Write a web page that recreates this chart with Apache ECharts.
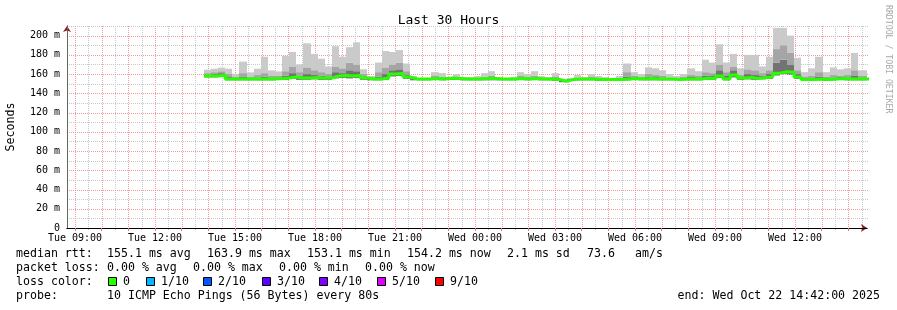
<!DOCTYPE html>
<html><head><meta charset="utf-8">
<script src="https://cdn.jsdelivr.net/npm/echarts@6/dist/echarts.min.js"></script>
<style>html,body{margin:0;padding:0;background:#fff}#c{width:897px;height:310px}</style>
</head><body><div id="c"></div>
<script>
// ---- axis extents (hours since Tue 00:00) ----
const xStartHour = 8.7;           // Tue 08:42
const xEndHour = 38.7;            // Wed 14:42
const binStartHour = 13 + 50 / 60; // first bin Tue 13:50
const binHours = 16 / 60;          // 16 minute consolidation

// ---- tick labels ----
const xLabelHours = [9, 12, 15, 18, 21, 24, 27, 30, 33, 36];
const yLabelValues = [0, 20, 40, 60, 80, 100, 120, 140, 160, 180, 200];

// ---- series values (ms) ----
const medianRtt = [158,158,159,155,155,155,155,155,155,155,155.5,156,157,156,156,156.5,156,156,158,158.5,
  158,158.5,156,155,155,156,160,160.5,157,155,155,155,155.5,155,156,155.5,155,155,155,155.5,
  155.5,155,155,155,155.5,155,155.5,155,155,154.5,152.5,154.5,155,155,155,154.5,154.5,154.5,154.5,155,
  155.5,155,155.5,155,155,155,154.5,155,155,155,156,155.5,158,155,159,156,156.5,155.5,156.5,157,
  161,162.5,162,157,154.5,154.5,155,154.5,155,155.5,155,155,155,155];
const smokeMin = [156.5,156.5,157.5,153.5,153.5,153.5,153.5,153.5,153.5,153.5,154,154,155,154,154,154.5,154,154,155.5,156,
  155.5,156,154,153.5,153.5,154,157.5,158,155,153.5,153.5,153.5,154,153.5,154,154,153.5,153.5,153.5,153.5,
  153.5,153.5,153.5,153.5,154,153.5,154,153.5,153.5,153,151.5,153,153.5,153.5,153.5,153,153,153,153,153.5,
  154,153.5,153.5,153.5,153.5,153.5,153.5,153.5,153.5,153.5,154,154,156,153.5,156.5,154,154.5,154,154.5,155,
  158.5,160,159.5,155,153,153,153.5,153,153.5,154,153.5,153.5,153.5,153.5];
const smokeInner = [159.5,160,161,157,156,157.5,156,156.5,157.5,156.5,156.5,158.5,161,158.5,160,159,158.5,157.5,162,161,
  164,163,157.5,155.5,157.5,160,164,165,159.5,155.5,155.5,155.5,156.5,156,157,156.5,155.5,155.5,155.5,156.5,
  156.5,155.5,155.5,155.5,156.5,156,156.5,155.5,155.5,155.5,153.2,155,155.5,155.5,156,155.2,155.2,155,155.2,157.5,
  156.5,156,157.5,157,156.5,155.5,155.2,156,157,156.5,158.5,158,164,158,164,157.5,160,159,158.5,160,
  172,175,170,160,155.5,156,157.5,155.5,156.5,157,156.5,158,156.5,156.5];
const smokeMid = [161,162,163,160,157,161,157,159,161,158,158,163,168,162,167,164,162,160,168,166,
  172,170,160,156.5,162,167,170,172,163,156.5,156,156,158,157.5,156.5,157,156,156,156.5,157.5,
  158,156,155.5,156,158,157,158.5,156.5,156,157,154,155.5,156.5,156,157,156,156,155.5,156,162,
  158,157,160,159,158,156.5,156,157,159,158,162,161,170,162,168,159,165,164,161,164,
  186,190,182,164,157,158,162,157,159,158,159,164,158,158];
const smokeMax = [164.6,165.6,166.7,165.6,160.4,173,161.8,165.6,178,163.9,162.8,179,183,170,192,181,176,168,189,178,
  188,193,165,158,172,184,183,185,171,158,156,156,162,161,157,160,157,157,158,161,
  163,157,156,157,162,160,163,158,157,161,155,156,159,157,160,158,157,156,158,171,
  162,160,167,166,164,160,158,160,166,163,175,172,191,172,181,166,180,180,168,178,
  208,208,200,177,162,166,178,162,167,165,166,182,164,164];

// ---- legend ----
const lossColors = ['#26ff00', '#00b8ff', '#0059ff', '#5e00ff', '#7e00ff', '#dd00ff', '#ff0000'];
const lossLabels = ['0', '1/10', '2/10', '3/10', '4/10', '5/10', '9/10'];

// ---- build series data ----
const times = medianRtt.map((_, i) => binStartHour + i * binHours);
const endTime = binStartHour + medianRtt.length * binHours;
const medianData = medianRtt.map((v, i) => [times[i], v]).concat([[endTime, medianRtt[medianRtt.length - 1]]]);
const band = (lo, hi) => lo.map((v, i) => [times[i], times[i] + binHours, v, hi[i]]);

const pad = n => (n < 10 ? '0' : '') + n;
const fmtHour = h => (h < 24 ? 'Tue ' : 'Wed ') + pad(h % 24) + ':00';

// grid lines (chart furniture): [orientation 0=vertical 1=horizontal, value, major]
const majorHours = [], minorHours = [];
for (let h = 9; h <= 38; h++) majorHours.push(h);
for (let h = 9.5; h <= 38.5; h += 1) minorHours.push(h);
const gridData = [];
minorHours.forEach(h => gridData.push([0, h, 0]));
for (let v = 10; v <= 210; v += 20) gridData.push([1, v, 0]);
majorHours.forEach(h => gridData.push([0, h, 1]));
for (let v = 20; v <= 200; v += 20) gridData.push([1, v, 1]);

const MONO = '"DejaVu Sans Mono", monospace';
const LF = '11.6px ' + MONO;

const graphic = [];
const txt = (x, y, text, extra) => graphic.push({ type: 'text', x, y, silent: true,
  style: Object.assign({ text, font: LF, fill: '#000', align: 'left', verticalAlign: 'middle' }, extra || {}) });

txt(16, 254, 'median rtt:');
txt(107, 254, '155.1 ms avg');
txt(207, 254, '163.9 ms max');
txt(307, 254, '153.1 ms min');
txt(407, 254, '154.2 ms now');
txt(507, 254, '2.1 ms sd');
txt(587, 254, '73.6');
txt(635, 254, 'am/s');
txt(16, 268, 'packet loss:');
txt(107, 268, '0.00 % avg');
txt(193, 268, '0.00 % max');
txt(279, 268, '0.00 % min');
txt(365, 268, '0.00 % now');
txt(16, 282, 'loss color:');
const boxX = [108, 146, 203, 262, 319, 377, 435];
lossColors.forEach((c, i) => {
  graphic.push({ type: 'rect', silent: true, shape: { x: boxX[i] + 0.5, y: 277.5, width: 8, height: 8 },
    style: { fill: c, stroke: '#000', lineWidth: 1 } });
  txt(boxX[i] + 15, 282, lossLabels[i]);
});
txt(16, 296, 'probe:');
txt(107, 296, '10 ICMP Echo Pings (56 Bytes) every 80s');
txt(880, 296, 'end: Wed Oct 22 14:42:00 2025', { align: 'right' });
graphic.push({ type: 'text', x: 888, y: 5, rotation: -Math.PI / 2, silent: true,
  style: { text: 'RRDTOOL / TOBI OETIKER', font: '8.2px ' + MONO, fill: '#a8a8a8', align: 'left', verticalAlign: 'middle' } });

const smokeSeries = (name, data, color) => ({
  name, type: 'custom', data, silent: true, z: 2,
  encode: { x: [0, 1], y: [2, 3] },
  renderItem: (params, api) => {
    const a = api.coord([api.value(0), api.value(3)]);
    const b = api.coord([api.value(1), api.value(2)]);
    const x0 = Math.round(a[0]), x1 = Math.round(b[0]);
    const shape = echarts.graphic.clipRectByRect(
      { x: x0, y: a[1], width: x1 - x0, height: b[1] - a[1] },
      { x: params.coordSys.x, y: params.coordSys.y, width: params.coordSys.width, height: params.coordSys.height });
    return shape && { type: 'rect', shape, style: { fill: color } };
  }
});

const gridSeries = {
  name: 'grid', type: 'custom', data: gridData, silent: true, z: 1,
  encode: { x: -1, y: -1 },
  renderItem: (params, api) => {
    const cs = params.coordSys;
    const vertical = api.value(0) === 0;
    const major = api.value(2) === 1;
    const stroke = major ? '#f19c9c' : '#c8c8c8';
    let shape;
    if (vertical) {
      const x = Math.round(api.coord([api.value(1), 0])[0]) + 0.5;
      shape = { x1: x, y1: cs.y, x2: x, y2: cs.y + cs.height };
    } else {
      const y = Math.round(api.coord([xStartHour, api.value(1)])[1]) + 0.5;
      shape = { x1: cs.x, y1: y, x2: cs.x + cs.width + 1, y2: y };
    }
    return { type: 'line', shape, style: { stroke, lineWidth: 1, lineDash: [1, 1] } };
  }
};

const option = {
  animation: false,
  backgroundColor: '#ffffff',
  title: { text: 'Last 30 Hours', left: 'center', top: 14, padding: 0,
    textStyle: { fontFamily: MONO, fontSize: 13, fontWeight: 'normal', color: '#000' } },
  grid: { left: 67, right: 30, top: 26, bottom: 82, containLabel: false, outerBoundsMode: 'none' },
  xAxis: [{
    type: 'value', min: xStartHour, max: xEndHour, z: 3,
    axisLine: { show: true, lineStyle: { color: '#000', width: 1 } },
    axisTick: { show: true, customValues: majorHours, length: 3, lineStyle: { color: '#e07070' } },
    axisLabel: { customValues: xLabelHours, formatter: v => fmtHour(Math.round(v)), margin: 5,
      fontFamily: MONO, fontSize: 10, color: '#000' },
    splitLine: { show: false }
  }, {
    type: 'value', min: xStartHour, max: xEndHour, z: 1, position: 'bottom',
    axisLine: { show: true, symbol: ['none', 'arrow'], symbolSize: [6, 6], lineStyle: { color: '#8b1a1a', width: 1 } },
    axisTick: { show: true, customValues: minorHours, length: 2, lineStyle: { color: '#bbbbbb' } },
    axisLabel: { show: false }, splitLine: { show: false }
  }],
  yAxis: [{
    type: 'value', min: 0, max: 210, z: 3, position: 'left',
    name: 'Seconds', nameLocation: 'middle', nameGap: 50, nameRotate: 90,
    nameTextStyle: { fontFamily: MONO, fontSize: 11.6, color: '#000' },
    axisLine: { show: true, lineStyle: { color: '#666', width: 1 } },
    axisTick: { show: false },
    axisLabel: { customValues: yLabelValues, formatter: v => (v === 0 ? '0' : v + ' m'), margin: 7,
      fontFamily: MONO, fontSize: 10, color: '#000' },
    splitLine: { show: false }
  }, {
    type: 'value', min: 0, max: 210, z: 1, position: 'left', offset: 0,
    axisLine: { show: true, symbol: ['none', 'arrow'], symbolSize: [6, 6], lineStyle: { color: '#8b1a1a', width: 1 } },
    axisTick: { show: false }, axisLabel: { show: false }, splitLine: { show: false }
  }],
  series: [
    gridSeries,
    smokeSeries('inner', band(smokeMin, smokeInner), '#737373'),
    smokeSeries('mid', band(smokeInner, smokeMid), '#a5a5a5'),
    smokeSeries('outer', band(smokeMid, smokeMax), '#cacaca'),
    { name: 'median', type: 'line', step: 'end', data: medianData, showSymbol: false, silent: true, z: 4,
      lineStyle: { color: '#26ff00', width: 3 } }
  ],
  graphic
};

const chart = echarts.init(document.getElementById('c'), null, { renderer: 'canvas' });
chart.setOption(option);
</script>
</body></html>
